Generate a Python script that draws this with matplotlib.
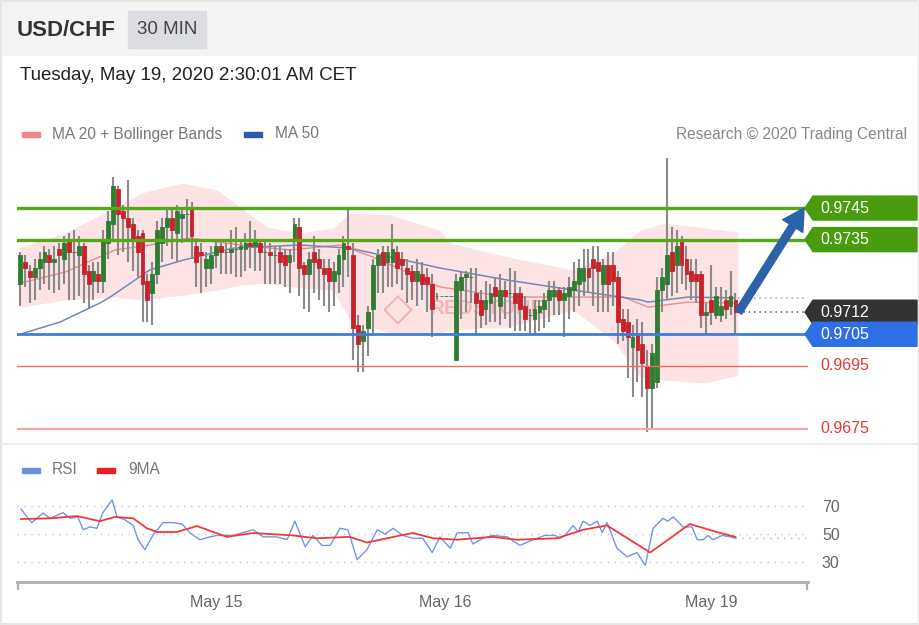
import matplotlib.pyplot as plt
from matplotlib.patches import Polygon, Rectangle, FancyArrowPatch
from matplotlib.lines import Line2D

plt.rcParams['font.family'] = ['Liberation Sans', 'DejaVu Sans']

# ---- 30 min USD/CHF candles ----
opens = [0.9721, 0.9728, 0.9725, 0.9723, 0.9726, 0.9728, 0.9730, 0.9728, 0.9732, 0.9729,
         0.9735, 0.9731, 0.9730, 0.9733, 0.9725, 0.9722, 0.9724, 0.9722, 0.9734, 0.9740,
         0.9751, 0.9744, 0.9742, 0.9740, 0.9736, 0.9737, 0.9722, 0.9718, 0.9724, 0.9734,
         0.9739, 0.9742, 0.9737, 0.9742, 0.9743, 0.9745,
         0.9733, 0.9731, 0.9726, 0.9726, 0.9730, 0.9733, 0.9731, 0.9731, 0.9732, 0.9732,
         0.9732, 0.9734, 0.9733, 0.9734, 0.9731, 0.9731, 0.9730, 0.9731, 0.9730, 0.9728,
         0.9735, 0.9739, 0.9727, 0.9724, 0.9731, 0.9729, 0.9726, 0.9726, 0.9722, 0.9724,
         0.9729, 0.9733, 0.9730, 0.9708, 0.9703, 0.9707, 0.9713, 0.9727,
         0.9731, 0.9728, 0.9728, 0.9731, 0.9729, 0.9726, 0.9725, 0.9722, 0.9724, 0.9723,
         0.9721, 0.9717, 0.9717, 0.9717, 0.9717, 0.9697, 0.9719, 0.9723, 0.9723, 0.9718,
         0.9716, 0.9713, 0.9715, 0.9720, 0.9714, 0.9719, 0.9718, 0.9718, 0.9718, 0.9714,
         0.9711, 0.9710, 0.9712, 0.9713, 0.9716, 0.9717,
         0.9719, 0.9716, 0.9717, 0.9719, 0.9721, 0.9722, 0.9726, 0.9729, 0.9728, 0.9721,
         0.9727, 0.9727, 0.9723, 0.9710, 0.9709, 0.9701, 0.9705, 0.9702, 0.9695, 0.9688,
         0.9690, 0.9719, 0.9721, 0.9731, 0.9727, 0.9735, 0.9729, 0.9725, 0.9724, 0.9724,
         0.9711, 0.9716, 0.9711, 0.9711, 0.9716, 0.9714, 0.9716]
highs = [0.9731, 0.9730, 0.9727, 0.9729, 0.9731, 0.9733, 0.9732, 0.9733, 0.9734, 0.9736,
         0.9737, 0.9738, 0.9736, 0.9734, 0.9727, 0.9728, 0.9728, 0.9738, 0.9744, 0.9755,
         0.9752, 0.9746, 0.9754, 0.9742, 0.9738, 0.9738, 0.9724, 0.9728, 0.9741, 0.9742,
         0.9745, 0.9745, 0.9746, 0.9745, 0.9748, 0.9747,
         0.9735, 0.9734, 0.9731, 0.9733, 0.9735, 0.9734, 0.9734, 0.9738, 0.9739, 0.9735,
         0.9737, 0.9741, 0.9738, 0.9735, 0.9735, 0.9734, 0.9733, 0.9733, 0.9732, 0.9732,
         0.9742, 0.9742, 0.9728, 0.9731, 0.9736, 0.9732, 0.9729, 0.9729, 0.9728, 0.9732,
         0.9736, 0.9745, 0.9734, 0.9711, 0.9708, 0.9714, 0.9729, 0.9732,
         0.9733, 0.9733, 0.9740, 0.9733, 0.9731, 0.9729, 0.9727, 0.9729, 0.9728, 0.9726,
         0.9724, 0.9718, 0.9717, 0.9717, 0.9717, 0.9724, 0.9725, 0.9725, 0.9726, 0.9726,
         0.9719, 0.9722, 0.9721, 0.9723, 0.9724, 0.9722, 0.9726, 0.9725, 0.9720, 0.9717,
         0.9713, 0.9716, 0.9716, 0.9718, 0.9722, 0.9722,
         0.9720, 0.9720, 0.9723, 0.9728, 0.9729, 0.9732, 0.9732, 0.9733, 0.9733, 0.9729,
         0.9731, 0.9731, 0.9725, 0.9713, 0.9713, 0.9708, 0.9710, 0.9709, 0.9700, 0.9702,
         0.9723, 0.9726, 0.9761, 0.9739, 0.9738, 0.9736, 0.9733, 0.9729, 0.9729, 0.9725,
         0.9715, 0.9727, 0.9720, 0.9720, 0.9719, 0.9725, 0.9718]
lows = [0.9714, 0.9720, 0.9715, 0.9716, 0.9719, 0.9721, 0.9719, 0.9718, 0.9719, 0.9721,
        0.9716, 0.9716, 0.9717, 0.9715, 0.9713, 0.9716, 0.9718, 0.9718, 0.9729, 0.9735,
        0.9730, 0.9731, 0.9728, 0.9725, 0.9723, 0.9709, 0.9709, 0.9708, 0.9721, 0.9728,
        0.9733, 0.9729, 0.9728, 0.9734, 0.9735, 0.9729,
        0.9720, 0.9718, 0.9720, 0.9721, 0.9726, 0.9724, 0.9724, 0.9724, 0.9723, 0.9723,
        0.9725, 0.9726, 0.9725, 0.9725, 0.9721, 0.9721, 0.9721, 0.9721, 0.9720, 0.9718,
        0.9728, 0.9717, 0.9713, 0.9712, 0.9718, 0.9716, 0.9714, 0.9712, 0.9714, 0.9718,
        0.9720, 0.9723, 0.9697, 0.9693, 0.9693, 0.9698, 0.9705, 0.9718,
        0.9718, 0.9720, 0.9720, 0.9721, 0.9719, 0.9715, 0.9716, 0.9714, 0.9716, 0.9712,
        0.9704, 0.9716, 0.9717, 0.9717, 0.9717, 0.9697, 0.9710, 0.9712, 0.9715, 0.9705,
        0.9707, 0.9708, 0.9709, 0.9709, 0.9708, 0.9710, 0.9707, 0.9706, 0.9706, 0.9706,
        0.9705, 0.9705, 0.9706, 0.9707, 0.9709, 0.9711,
        0.9711, 0.9704, 0.9710, 0.9712, 0.9714, 0.9717, 0.9718, 0.9714, 0.9712, 0.9712,
        0.9712, 0.9714, 0.9702, 0.9703, 0.9691, 0.9685, 0.9690, 0.9685, 0.9674, 0.9675,
        0.9688, 0.9712, 0.9716, 0.9717, 0.9718, 0.9721, 0.9719, 0.9716, 0.9715, 0.9707,
        0.9705, 0.9708, 0.9710, 0.9709, 0.9710, 0.9711, 0.9705]
closes = [0.9730, 0.9726, 0.9723, 0.9726, 0.9729, 0.9731, 0.9728, 0.9729, 0.9730, 0.9734,
          0.9731, 0.9731, 0.9733, 0.9724, 0.9721, 0.9725, 0.9722, 0.9735, 0.9741, 0.9752,
          0.9743, 0.9742, 0.9739, 0.9735, 0.9731, 0.9721, 0.9716, 0.9724, 0.9738, 0.9739,
          0.9742, 0.9738, 0.9744, 0.9743, 0.9743, 0.9736,
          0.9728, 0.9730, 0.9729, 0.9730, 0.9733, 0.9731, 0.9731, 0.9732, 0.9732, 0.9733,
          0.9734, 0.9733, 0.9735, 0.9731, 0.9731, 0.9730, 0.9730, 0.9728, 0.9727, 0.9730,
          0.9740, 0.9726, 0.9724, 0.9729, 0.9728, 0.9726, 0.9724, 0.9722, 0.9725, 0.9730,
          0.9734, 0.9732, 0.9707, 0.9702, 0.9706, 0.9712, 0.9727, 0.9730,
          0.9727, 0.9731, 0.9732, 0.9726, 0.9727, 0.9724, 0.9722, 0.9725, 0.9721, 0.9721,
          0.9713, 0.9717, 0.9717, 0.9717, 0.9717, 0.9722, 0.9723, 0.9724, 0.9723, 0.9715,
          0.9711, 0.9716, 0.9718, 0.9717, 0.9719, 0.9717, 0.9718, 0.9715, 0.9713, 0.9710,
          0.9711, 0.9713, 0.9714, 0.9716, 0.9719, 0.9719,
          0.9716, 0.9718, 0.9720, 0.9722, 0.9726, 0.9726, 0.9723, 0.9726, 0.9725, 0.9727,
          0.9721, 0.9722, 0.9709, 0.9706, 0.9704, 0.9704, 0.9700, 0.9696, 0.9688, 0.9699,
          0.9719, 0.9723, 0.9730, 0.9725, 0.9733, 0.9727, 0.9724, 0.9722, 0.9722, 0.9711,
          0.9712, 0.9712, 0.9717, 0.9714, 0.9713, 0.9717, 0.9712]

# Bollinger bands (MA 20) and MA 50, sampled along the candle index
band_idx = [0, 9.2, 19.4, 24.9, 29.6, 33.3, 40.2, 44.9, 50.4, 57.1, 63.9, 67.3,
            75.5, 85.7, 87.8, 99.4, 112.9, 121, 126.5, 131.6, 139.8, 146.5]
band_upper = [0.97326, 0.97371, 0.97453, 0.97498, 0.97517, 0.97529, 0.97507, 0.97453,
              0.97390, 0.97371, 0.97387, 0.97434, 0.97428, 0.97380, 0.97339, 0.97295,
              0.97254, 0.97307, 0.97380, 0.97402, 0.97387, 0.97374]
band_lower = [0.97136, 0.97159, 0.97168, 0.97159, 0.97168, 0.97174, 0.97190, 0.97206,
              0.97212, 0.97197, 0.97190, 0.97095, 0.97054, 0.97054, 0.97064, 0.97073,
              0.97127, 0.97032, 0.96915, 0.96905, 0.96896, 0.96921]
ma20_idx = [0, 9.2, 19.4, 26.5, 34.7, 44.9, 55.1, 65.3, 72, 85.7, 99.4, 112.9,
            123.1, 128.2, 136.3, 146]
ma20 = [0.97212, 0.97247, 0.97317, 0.97333, 0.97355, 0.97333, 0.97317, 0.97333,
        0.97295, 0.97200, 0.97168, 0.97168, 0.97168, 0.97136, 0.97152, 0.97149]
ma50_idx = [0, 8.2, 16.3, 18.4, 26.5, 33.3, 43.5, 57.1, 67.3, 72, 85.7, 99.4,
            112.9, 126.5, 128.2, 136.3, 146]
ma50 = [0.97050, 0.97089, 0.97149, 0.97168, 0.97254, 0.97285, 0.97323, 0.97333,
        0.97323, 0.97307, 0.97260, 0.97222, 0.97190, 0.97159, 0.97152, 0.97168, 0.97165]

# RSI panel
rsi_idx = [0.2, 2.4, 4.7, 6.1, 8.8, 10.2, 11.8, 12.9, 14.3, 15.7, 16.9, 18.8, 19.8, 21.4,
           23.1, 24.1, 25.5, 27.1, 29.2, 31.2, 33.1, 34.7, 36.7, 38.8, 40.2, 43.5, 47.6,
           49.6, 52.4, 54.5, 56.1, 58.2, 59.8, 61.6, 63.3, 65.3, 66.9, 68.8, 70.8, 72.9,
           74.5, 76.1, 78.2, 80.2, 82.2, 84.1, 85.7, 87.8, 89.2, 91.4, 92.4, 94.5, 96.5,
           99.4, 102, 104.7, 107.1, 109.2, 110.2, 111.2, 112.9, 113.9, 114.9, 116.3, 117.8,
           118.8, 119.8, 121.8, 123.9, 125.9, 127.6, 129.2, 131.2, 132.2, 133.3, 135.3,
           137.1, 138.2, 139.4, 140.4, 141.4, 143.3, 144.9, 146]
rsi = [67.5, 58, 64.7, 61, 65, 61, 62, 53, 55, 54, 65, 74, 62, 60,
       56, 46, 39, 49, 58, 58, 57, 50.7, 46, 48, 49, 49, 53,
       48, 48, 46, 59, 41, 49, 42, 42, 54, 53, 32, 39, 53,
       50, 54, 49, 47, 47, 37, 48, 40, 50.7, 51, 43, 47, 49,
       48, 42, 46, 49, 49, 47, 49, 56, 51.4, 59, 56, 59,
       51, 58, 40, 34, 37, 28, 54, 61, 59, 62, 55,
       55, 46, 46, 49, 46, 49, 48, 47]
ma9_idx = [0.2, 6.1, 11.6, 16.3, 19.4, 23.1, 25.9, 28, 32, 36.1, 42.2, 47.6, 55.7, 60.6,
           67.3, 70.8, 77.6, 80.2, 84.3, 89.2, 96.5, 101.4, 109.6, 114.9, 119.8, 128.6,
           136.7, 142.9, 146]
ma9 = [60.5, 61, 62.6, 59, 62, 61, 54, 51.4, 51.4, 55.6, 48, 50.7, 49, 47,
       48, 44, 49, 50.7, 47, 46, 48, 46, 47, 53, 56, 37,
       57, 50.7, 48]

levels = [0.9745, 0.9735, 0.9712, 0.9705, 0.9695, 0.9675]
level_labels = ['0.9745', '0.9735', '0.9712', '0.9705', '0.9695', '0.9675']
day_ticks = [40, 86.7, 141]
day_labels = ['May 15', 'May 16', 'May 19']
rsi_levels = [30, 50, 70]

# ---- styling / layout ----
W, H = 920, 625
def fx(px):
    return px / W
def fy(py):
    return 1 - py / H

GREEN_LINE, GREEN_TAG = '#56a81b', '#4a9c0f'
BLUE_LINE, BLUE_TAG = '#3d7de3', '#2f6fe6'
level_style = {
    '0.9745': dict(line=GREEN_LINE, lw=2.4, tag=GREEN_TAG),
    '0.9735': dict(line=GREEN_LINE, lw=2.4, tag=GREEN_TAG),
    '0.9712': dict(line=None, lw=0, tag='#333333'),
    '0.9705': dict(line=BLUE_LINE, lw=2.0, tag=BLUE_TAG),
    '0.9695': dict(line='#f06a6a', lw=1.0, tag=None),
    '0.9675': dict(line='#f4a8a8', lw=1.6, tag=None),
}

fig = plt.figure(figsize=(9.2, 6.25), dpi=100)
fig.patch.set_facecolor('white')

# header
fig.patches.append(Rectangle((0, fy(55)), 1, 55 / H, transform=fig.transFigure,
                             color='#f4f4f4', zorder=0))
fig.patches.append(Rectangle((fx(128), fy(48)), 78 / W, 37 / H, transform=fig.transFigure,
                             color='#dcdde2', zorder=1))
fig.text(fx(17), fy(30), 'USD/CHF', fontsize=16, fontweight='bold', color='#333333', va='center')
fig.text(fx(167), fy(30), '30 MIN', fontsize=13.5, color='#444444', ha='center', va='center')
fig.text(fx(20), fy(76), 'Tuesday, May 19, 2020 2:30:01 AM CET', fontsize=13.5,
         color='#222222', va='center')

# legends
fig.patches.append(Rectangle((fx(22), fy(137)), 18 / W, 5 / H, transform=fig.transFigure,
                             color='#f28585'))
fig.text(fx(52), fy(134), 'MA 20 + Bollinger Bands', fontsize=11.2, color='#777777', va='center')
fig.patches.append(Rectangle((fx(244), fy(137)), 18 / W, 5 / H, transform=fig.transFigure,
                             color='#2f5aa8'))
fig.text(fx(275), fy(134), 'MA 50', fontsize=11.2, color='#777777', va='center')
fig.text(fx(907), fy(134), 'Research \u00a9 2020 Trading Central', fontsize=11.2,
         color='#888888', va='center', ha='right')

fig.patches.append(Rectangle((fx(22), fy(473)), 18 / W, 5 / H, transform=fig.transFigure,
                             color='#6d8fdd'))
fig.text(fx(52), fy(470), 'RSI', fontsize=11.2, color='#777777', va='center')
fig.patches.append(Rectangle((fx(97), fy(473)), 18 / W, 5 / H, transform=fig.transFigure,
                             color='#e8201f'))
fig.text(fx(128), fy(470), '9MA', fontsize=11.2, color='#777777', va='center')

fig.add_artist(Line2D([0, 1], [fy(444), fy(444)], color='#e8e8e8', lw=1.2))
fig.patches.append(Rectangle((0.001, 0.001), 0.998, 0.998, transform=fig.transFigure,
                             fill=False, edgecolor='#e6e6e6', lw=1.5))

# ---- price panel ----
xmin, xmax = -0.61, 160.8
ax = fig.add_axes([fx(17), fy(440), (808 - 17) / W, 290 / H])
ax.set_xlim(xmin, xmax)
ax.set_ylim(0.96715, 0.97634)
ax.axis('off')

ax.fill_between(band_idx, band_upper, band_lower, color='#fde3e3', lw=0, zorder=1)
ax.plot(ma20_idx, ma20, color='#f08a8a', lw=1.0, zorder=2)
ax.plot(ma50_idx, ma50, color='#7088bd', lw=1.1, zorder=2)

# watermark
ax.text(77, 0.97131, '\u25c7', fontsize=28, color='#f2aaaa', ha='center', va='center',
        alpha=0.8, zorder=2)
ax.text(83.5, 0.97131, 'REDSTONE', fontsize=15, fontweight='bold', color='#f2aaaa',
        alpha=0.8, va='center', zorder=2)

idx = list(range(len(closes)))
body_colors = ['#2f7d32' if c >= o else '#c8232c' for o, c in zip(opens, closes)]
ax.vlines(idx, lows, highs, color='#8a8a8a', lw=1.5, zorder=3)
ax.bar(idx, [c - o for o, c in zip(opens, closes)], bottom=opens, width=0.78,
       color=body_colors, edgecolor=body_colors, linewidth=0.6, zorder=4)

ytr = ax.get_yaxis_transform()
yspan = ax.get_ylim()[1] - ax.get_ylim()[0]
half = 12 * yspan / 290
tip, shoulder, right = (805 - 17) / 791, (813 - 17) / 791, (917 - 17) / 791
for lvl, lab in zip(levels, level_labels):
    st = level_style[lab]
    if st['line']:
        ax.axhline(lvl, color=st['line'], lw=st['lw'], zorder=5)
    if st['tag']:
        ax.add_patch(Polygon([(tip, lvl), (shoulder, lvl + half), (right, lvl + half),
                              (right, lvl - half), (shoulder, lvl - half)],
                             closed=True, transform=ytr, color=st['tag'], clip_on=False,
                             zorder=6))
        ax.text((820 - 17) / 791, lvl, lab, transform=ytr, color='white', fontsize=11.5,
                va='center', zorder=7, clip_on=False)
    else:
        ax.text((820 - 17) / 791, lvl, lab, transform=ytr, color='#e53935', fontsize=11.5,
                va='center', zorder=7, clip_on=False)

last = len(closes) - 1
ax.hlines(closes[-1], last + 0.6, xmax - 0.3, color='#555555', lw=1.1, ls=(0, (1, 2.5)), zorder=5)
ax.hlines(ma50[-1], last + 0.6, xmax - 0.3, color='#95a3c4', lw=1.1, ls=(0, (1, 2.5)), zorder=5)

arrow = FancyArrowPatch((last + 0.6, closes[-1]), (xmax - 0.8, levels[0]),
                        arrowstyle='simple,head_length=0.85,head_width=0.95,tail_width=0.3',
                        mutation_scale=18, color='#2c62a8', zorder=8,
                        shrinkA=0, shrinkB=0, clip_on=False)
ax.add_patch(arrow)

# ---- RSI panel ----
rax = fig.add_axes([fx(17), fy(582), (808 - 17) / W, 92 / H])
rax.set_xlim(xmin, xmax)
rax.set_ylim(16.3, 80.9)
for v in rsi_levels:
    rax.axhline(v, color='#c4c4c4', lw=1, ls=(0, (1, 4)))
rax.plot(rsi_idx, rsi, color='#7196e6', lw=1.0)
rax.plot(ma9_idx, ma9, color='#ef3a3a', lw=1.3)
rax.hlines(rsi[-1], rsi_idx[-1], xmax, color='#aab4cc', lw=1, ls=(0, (1, 4)))

for s in ('top', 'left', 'right'):
    rax.spines[s].set_visible(False)
rax.spines['bottom'].set_color('#b0b0b0')
rax.spines['bottom'].set_linewidth(2)
rax.set_xticks(day_ticks)
rax.set_xticklabels(day_labels)
rax.set_xticks([xmin + 0.15, xmax - 0.15], minor=True)
rax.tick_params(axis='x', which='major', length=0, pad=9, labelsize=11.5, labelcolor='#666666')
rax.tick_params(axis='x', which='minor', length=6, width=1.6, color='#b0b0b0')
rax.yaxis.tick_right()
rax.set_yticks(rsi_levels)
rax.tick_params(axis='y', length=0, pad=10, labelsize=11.5, labelcolor='#666666')

fig.savefig('out.png', dpi=100)
